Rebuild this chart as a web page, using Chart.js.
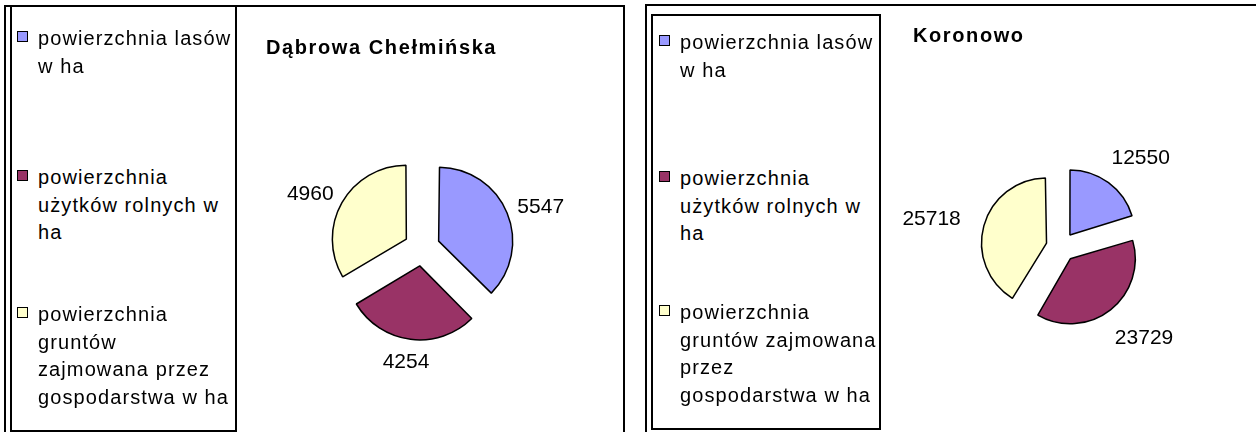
<!DOCTYPE html>
<html>
<head>
<meta charset="utf-8">
<script src="https://cdn.jsdelivr.net/npm/chart.js@4.4.1/dist/chart.umd.min.js"></script>
<style>
  html, body { margin: 0; padding: 0; background: #fff; }
  body { width: 1256px; height: 432px; position: relative; overflow: hidden;
         font-family: "Liberation Sans", Arial, sans-serif; color: #000; }
  .frame { position: absolute; border: 2px solid #000; box-sizing: border-box; }
  .legend-line { position: absolute; font-size: 20px; line-height: 27.5px; letter-spacing: 1.1px; white-space: nowrap; }
  .marker { position: absolute; width: 11px; height: 11px; border: 1.5px solid #000; box-sizing: border-box; }
  .title { position: absolute; font-size: 20px; font-weight: bold; line-height: 24px; letter-spacing: 1.6px; white-space: nowrap; }
  canvas { position: absolute; }
</style>
</head>
<body>
<div class="frame" style="left:4px; top:5px; width:621px; height:460px;"></div>
<div class="frame" style="left:10px; top:5px; width:227px; height:427px;"></div>
<div class="frame" style="left:645px; top:4px; width:640px; height:460px;"></div>
<div class="frame" style="left:651px; top:14px; width:230px; height:416px;"></div>

<canvas id="pieLeft" width="400" height="400" style="left:222px; top:48px;"></canvas>
<canvas id="pieRight" width="400" height="400" style="left:861px; top:47px;"></canvas>

<div id="legendLeft"></div>
<div id="legendRight"></div>

<div class="title" style="left:266px; top:35px;">Dąbrowa Chełmińska</div>
<div class="title" style="left:913px; top:23px;">Koronowo</div>

<script>
// DATA
const categories = [
    "powierzchnia lasów w ha",
    "powierzchnia użytków rolnych w ha",
    "powierzchnia gruntów zajmowana przez gospodarstwa w ha"
];
const dabrowaValues = [5547, 4254, 4960];
const koronowoValues = [12550, 23729, 25718];
const sliceColors = ["#9999ff", "#993366", "#ffffcc"];

// legend line breaks as in the picture
const legendLinesLeft = [
    ["powierzchnia lasów", "w ha"],
    ["powierzchnia", "użytków rolnych w", "ha"],
    ["powierzchnia", "gruntów", "zajmowana przez", "gospodarstwa w ha"]
];
const legendLinesRight = [
    ["powierzchnia lasów", "w ha"],
    ["powierzchnia", "użytków rolnych w", "ha"],
    ["powierzchnia", "gruntów zajmowana", "przez", "gospodarstwa w ha"]
];

function buildLegend(holder, lines, x, tops) {
    lines.forEach((item, i) => {
        const m = document.createElement("div");
        m.className = "marker";
        m.style.left = x + "px";
        m.style.top = (tops[i] + 6) + "px";
        m.style.background = sliceColors[i];
        holder.appendChild(m);
        item.forEach((txt, j) => {
            const d = document.createElement("div");
            d.className = "legend-line";
            d.textContent = txt;
            d.style.left = (x + 21) + "px";
            d.style.top = (tops[i] + j * 27.5) + "px";
            holder.appendChild(d);
        });
    });
}
buildLegend(document.getElementById("legendLeft"), legendLinesLeft, 17, [25, 164, 301]);
buildLegend(document.getElementById("legendRight"), legendLinesRight, 659, [29, 165, 299]);

// keep every exploded slice at the same radius (chart.js grows the arc a bit with offset)
const evenRadius = {
    id: "evenRadius",
    afterDatasetsUpdate(chart) {
        chart.getDatasetMeta(0).data.forEach(arc => {
            const off = (arc.options.offset || 0) / 4;
            const fix = 1 - Math.sin(Math.min(Math.PI, arc.circumference));
            arc.outerRadius -= off * fix;
        });
    }
};

// value labels outside the slices, text box touching the anchor point
const valueLabels = {
    id: "valueLabels",
    afterDatasetsDraw(chart, args, opts) {
        const ctx = chart.ctx;
        const meta = chart.getDatasetMeta(0);
        const values = chart.data.datasets[0].data;
        ctx.save();
        ctx.font = '21px "Liberation Sans", Arial, sans-serif';
        ctx.fillStyle = "#000";
        ctx.textAlign = "center";
        ctx.textBaseline = "middle";
        meta.data.forEach((arc, i) => {
            const mid = (arc.startAngle + arc.endAngle) / 2;
            const ux = Math.cos(mid), uy = Math.sin(mid);
            const txt = String(values[i]);
            const w = ctx.measureText(txt).width;
            const ax = arc.x + ux * opts.distance;
            const ay = arc.y + uy * opts.distance;
            ctx.fillText(txt, ax + ux * w / 2, ay + uy * 8 + 2);
        });
        ctx.restore();
    }
};

function makePie(id, values, radius, offset, labelDistance) {
    new Chart(document.getElementById(id), {
        type: "pie",
        data: {
            labels: categories,
            datasets: [{
                data: values,
                backgroundColor: sliceColors,
                borderColor: "#000",
                borderWidth: 1.5,
                offset: offset
            }]
        },
        options: {
            responsive: false,
            animation: false,
            devicePixelRatio: 1,
            events: [],
            radius: radius,
            plugins: {
                legend: { display: false },
                tooltip: { enabled: false },
                valueLabels: { distance: labelDistance }
            }
        },
        plugins: [evenRadius, valueLabels]
    });
}

makePie("pieLeft", dabrowaValues, 74, 72, 105);
makePie("pieRight", koronowoValues, 65, 60, 105);
</script>
</body>
</html>
